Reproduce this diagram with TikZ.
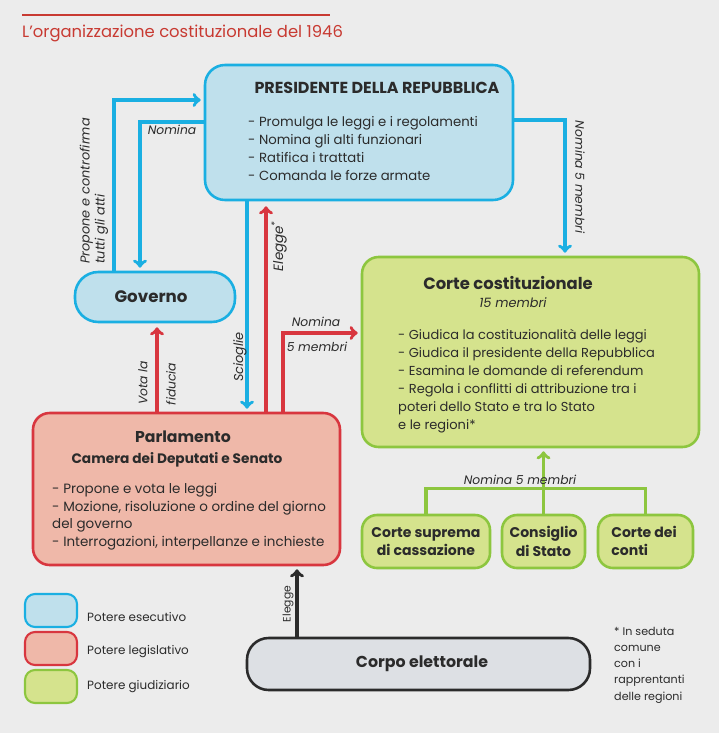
\documentclass[tikz,border=0pt]{standalone}
\usepackage{fontspec}
\setmainfont{Poppins}
\usepackage{tikz}
\usetikzlibrary{positioning, calc, fit, arrows}
\definecolor{pagegray}{HTML}{ECECEC}
\definecolor{esecline}{HTML}{1AAFE2}
\definecolor{esecfill}{HTML}{BFE0EC}
\definecolor{legline}{HTML}{D8363F}
\definecolor{legfill}{HTML}{EFB8A9}
\definecolor{giudline}{HTML}{8DC63F}
\definecolor{giudfill}{HTML}{D5E38D}
\definecolor{elettfill}{HTML}{DDE0E4}
\definecolor{titlered}{HTML}{C83A32}
\definecolor{inkgray}{HTML}{2B2B2B}

\begin{document}
\begin{tikzpicture}[x=0.03cm, y=-0.03cm, text=inkgray,
	box/.style={draw, line width=2.2pt, inner sep=0pt},
	esec/.style={box, draw=esecline, fill=esecfill},
	legis/.style={box, draw=legline, fill=legfill},
	giud/.style={box, draw=giudline, fill=giudfill},
	esecarrow/.style={->, draw=esecline, line width=3pt},
	legisarrow/.style={->, draw=legline, line width=3pt},
	giudarrow/.style={->, draw=giudline, line width=3pt},
	lbl/.style={font=\itshape\fontsize{10.5}{12.5}\selectfont, inner sep=0pt},
	boxtitle/.style={font=\bfseries\fontsize{13.5}{15}\selectfont, inner sep=0pt},
	items/.style={anchor=north west, align=left, inner sep=0pt, font=\fontsize{11}{15.4}\selectfont}]
	\useasboundingbox (0,0) rectangle (719,733);
	\fill[pagegray] (0,0) rectangle (719,733);
	
	% titolo
	\draw[titlered, line width=1.6pt] (22,15) -- (330,15);
	\node[anchor=west, inner sep=0pt, text=titlered, font=\fontsize{14}{16}\selectfont] (titolo) at (22,33) {L'organizzazione costituzionale del 1946};
	
	% riquadri
	\node[esec, rounded corners=0.6cm, fit={(205,65) (513,200)}] (pres) {};
	\node[boxtitle, font=\bfseries\fontsize{13.6}{15}\selectfont] (prestitle) at (377,88) {PRESIDENTE DELLA REPUBBLICA};
	\node[items, font=\fontsize{11.3}{15.4}\selectfont] (presitems) at (248,116) {- Promulga le leggi e i regolamenti\\- Nomina gli alti funzionari\\- Ratifica i trattati\\- Comanda le forze armate};
	
	\node[esec, rounded corners=0.7cm, fit={(75,272) (235,322)}] (gov) {};
	\node[boxtitle, font=\bfseries\fontsize{14.2}{16}\selectfont] (govtitle) at (151,297) {Governo};
	
	\node[giud, rounded corners=0.5cm, fit={(362,257) (699,447)}] (corte) {};
	\node[boxtitle, font=\bfseries\fontsize{14}{16}\selectfont] (cortetitle) at (508,283) {Corte costituzionale};
	\node[lbl, font=\itshape\fontsize{11}{12}\selectfont] (cortesub) at (513,303) {15 membri};
	\node[items, font=\fontsize{11.1}{15.4}\selectfont] (corteitems) at (398,329) {- Giudica la costituzionalità delle leggi\\- Giudica il presidente della Repubblica\\- Esamina le domande di referendum\\- Regola i conflitti di attribuzione tra i\\poteri dello Stato e tra lo Stato\\e le regioni*};
	
	\node[legis, rounded corners=0.5cm, fit={(33,413) (340,565)}] (parl) {};
	\node[boxtitle, font=\bfseries\fontsize{13.4}{15}\selectfont] (parltitle) at (183,437) {Parlamento};
	\node[boxtitle, font=\bfseries\fontsize{11.7}{14}\selectfont] (parlsub) at (177,460) {Camera dei Deputati e Senato};
	\node[items, font=\fontsize{11.5}{15.1}\selectfont] (parlitems) at (52,483) {- Propone e vota le leggi\\- Mozione, risoluzione o ordine del giorno\\del governo\\- Interrogazioni, interpellanze e inchieste};
	
	\node[giud, rounded corners=0.45cm, fit={(362,515) (490,568)}] (cass) {};
	\node[align=center, inner sep=0pt, font=\bfseries\fontsize{12}{16}\selectfont] (casstext) at (cass.center) {Corte suprema\\di cassazione};
	\node[giud, rounded corners=0.45cm, fit={(502,515) (585,568)}] (cons) {};
	\node[align=center, inner sep=0pt, font=\bfseries\fontsize{12}{16}\selectfont] (constext) at (cons.center) {Consiglio\\di Stato};
	\node[giud, rounded corners=0.45cm, fit={(598,515) (693,568)}] (conti) {};
	\node[align=left, inner sep=0pt, font=\bfseries\fontsize{12}{16}\selectfont] (contitext) at (644,541) {Corte dei\\conti};
	
	\node[box, draw=inkgray, fill=elettfill, rounded corners=0.65cm, fit={(247,638) (590,690)}] (corpo) {};
	\node[boxtitle] (corpotitle) at (422,664) {Corpo elettorale};
	
	% frecce
	\draw[esecarrow] ($(gov.north)+(-41,0)$) |- ($(pres.west)+(-3,-32.5)$);
	\node[lbl, font=\itshape\fontsize{11}{12.8}\selectfont, rotate=90, align=left] (lblpropone) at (94,191) {Propone e controfirma\\tutti gli atti};
	\draw[esecarrow] ($(pres.west)+(0,-10.5)$) -| ($(gov.north)+(-15,-3)$);
	\node[lbl] (lblnomina) at (172,130) {Nomina};
	\draw[esecarrow] ($(pres.east)+(0,-12.5)$) -| ($(corte.north)+(34.5,-3)$);
	\node[lbl, rotate=-90] (lblnomcorte) at (580,177) {Nomina 5 membri};
	\draw[esecarrow] ($(pres.south)+(-112,0)$) -- ($(parl.north)+(60.5,-3)$);
	\node[lbl, font=\itshape\fontsize{11}{12.5}\selectfont, rotate=90] (lblscioglie) at (240,357) {Scioglie};
	\draw[legisarrow] ($(parl.north)+(79.5,0)$) -- ($(pres.south)+(-93,5)$);
	\node[lbl, font=\itshape\fontsize{11.5}{12.5}\selectfont, rotate=90] (lblelegge) at (279,246) {Elegge\textsuperscript{*}};
	\draw[legisarrow] ($(parl.north)+(96.5,0)$) |- ($(corte.west)+(-3,-19)$);
	\node[lbl] (lblnomparl) at (316,322) {Nomina};
	\node[lbl] (lblcinque) at (317,347) {5 membri};
	\draw[legisarrow] ($(parl.north)+(-29.5,0)$) -- ($(gov.south)+(2,4)$);
	\node[lbl, rotate=90] (lblvota) at (143,383) {Vota la};
	\node[lbl, rotate=90] (lblfiducia) at (171,384) {fiducia};
	\draw[->, draw=inkgray, line width=3pt] ($(corpo.north)+(-121.5,0)$) -- ($(parl.south)+(110.5,3)$);
	\node[lbl, font=\fontsize{9.2}{12}\selectfont, rotate=90] (lblelettori) at (288,604) {Elegge};
	\draw[giudline, line width=3pt] (cass.north) -- ++(0,-25) -| (conti.north);
	\draw[giudarrow] (cons.north) -- ($(cons.north |- corte.south)+(0,3)$);
	\node[lbl] (lblnomcorti) at (520,480) {Nomina 5 membri};
	
	% legenda
	\node[esec, line width=1.8pt, rounded corners=0.3cm, fit={(25,594) (77,627)}] (legesec) {};
	\node[legis, line width=1.8pt, rounded corners=0.3cm, fit={(25,632) (77,665)}] (leglegis) {};
	\node[giud, line width=1.8pt, rounded corners=0.3cm, fit={(25,670) (77,703)}] (leggiud) {};
	\node[anchor=west, inner sep=0pt, font=\fontsize{10.2}{12}\selectfont] (txtesec) at (87,617) {Potere esecutivo};
	\node[anchor=west, inner sep=0pt, font=\fontsize{10.2}{12}\selectfont] (txtlegis) at (87,652) {Potere legislativo};
	\node[anchor=west, inner sep=0pt, font=\fontsize{10.2}{12}\selectfont] (txtgiud) at (87,687) {Potere giudiziario};
	
	% nota
	\node[anchor=north west, align=left, inner sep=0pt, font=\fontsize{9.5}{13.8}\selectfont] (nota) at (614,627) {* In seduta\\comune\\con i\\rapprentanti\\delle regioni};
\end{tikzpicture}
\end{document}
